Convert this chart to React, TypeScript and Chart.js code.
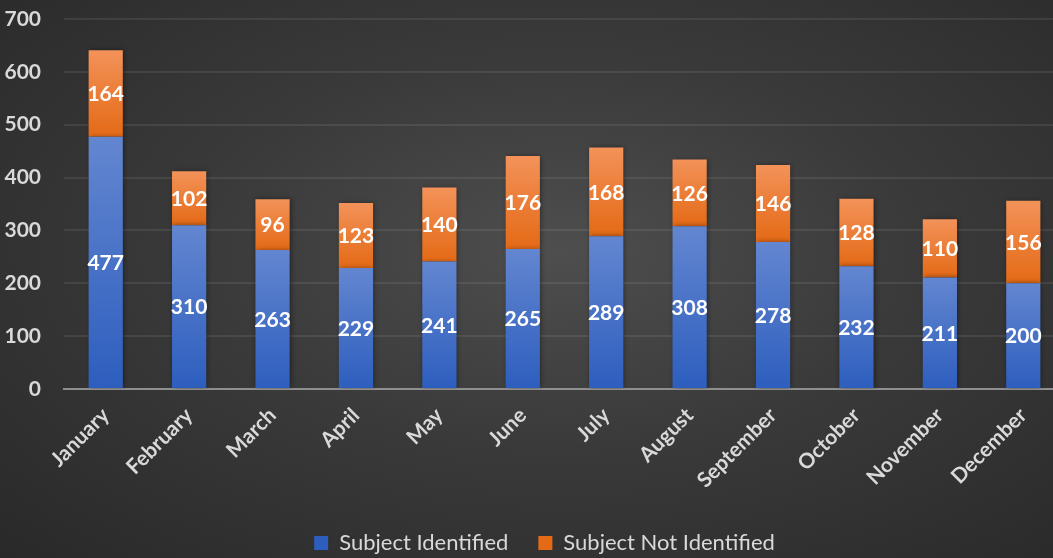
import React, { useEffect, useRef } from "react";
import { Chart, registerables } from "chart.js";

Chart.register(...registerables);

const months = ["January", "February", "March", "April", "May", "June", "July", "August", "September", "October", "November", "December"];
const identified = [477, 310, 263, 229, 241, 265, 289, 308, 278, 232, 211, 200];
const notIdentified = [164, 102, 96, 123, 140, 176, 168, 126, 146, 128, 110, 156];
const yTicks = [0, 100, 200, 300, 400, 500, 600, 700];
const seriesNames = ["Subject Identified", "Subject Not Identified"];

const FONT = "Lato, 'Noto Sans', sans-serif";
const TEXT = "#d9d9d9";

function gradientFill(ctx: any, seriesIndex: number) {
  const solid = seriesIndex === 0 ? "#4472C4" : "#ED7D31";
  if (ctx.type !== "data") return solid;
  const chart = ctx.chart;
  const y = chart.scales && chart.scales.y;
  if (!y || !chart.chartArea) return solid;
  const i = ctx.dataIndex;
  const base = seriesIndex === 0 ? 0 : identified[i];
  const top = base + (seriesIndex === 0 ? identified[i] : notIdentified[i]);
  const y0 = y.getPixelForValue(top);
  const y1 = y.getPixelForValue(base);
  if (!isFinite(y0) || !isFinite(y1) || y0 === y1) return solid;
  const g = chart.ctx.createLinearGradient(0, y0, 0, y1);
  if (seriesIndex === 0) {
    g.addColorStop(0, "#6386d0");
    g.addColorStop(1, "#2d5ebe");
  } else {
    g.addColorStop(0, "#f39259");
    g.addColorStop(1, "#e46a16");
  }
  return g;
}

const barDecor = {
  id: "barDecor",
  beforeDatasetsDraw(chart: any) {
    const c = chart.ctx;
    c.save();
    c.shadowColor = "rgba(0,0,0,0.45)";
    c.shadowBlur = 5;
    c.shadowOffsetX = 1;
    c.shadowOffsetY = 0;
  },
  afterDatasetsDraw(chart: any) {
    const c = chart.ctx;
    c.restore();
    c.save();
    c.fillStyle = "#ffffff";
    c.font = `bold 21px ${FONT}`;
    c.textAlign = "center";
    c.textBaseline = "middle";
    chart.data.datasets.forEach((ds: any, di: number) => {
      const meta = chart.getDatasetMeta(di);
      meta.data.forEach((bar: any, i: number) => {
        const v = ds.data[i];
        c.fillText(String(v), bar.x, (bar.y + bar.base) / 2 + 1);
      });
    });
    c.restore();
  },
};

const legendShift = {
  id: "legendShift",
  afterLayout(chart: any) {
    const l = chart.legend;
    if (!l) return;
    l.left += 12;
    l.right += 12;
    const h = l.bottom - l.top;
    l.top = 502;
    l.bottom = 502 + h;
  },
};

export default function App() {
  const ref = useRef<HTMLCanvasElement | null>(null);
  useEffect(() => {
    if (!ref.current) return;
    const chart = new Chart(ref.current, {
      type: "bar",
      data: {
        labels: months,
        datasets: [
          {
            label: seriesNames[0],
            data: identified,
            backgroundColor: (ctx: any) => gradientFill(ctx, 0),
            borderWidth: 0,
            barPercentage: 0.41,
            categoryPercentage: 1,
          },
          {
            label: seriesNames[1],
            data: notIdentified,
            backgroundColor: (ctx: any) => gradientFill(ctx, 1),
            borderWidth: 0,
            barPercentage: 0.41,
            categoryPercentage: 1,
          },
        ],
      },
      options: {
        animation: false,
        responsive: false,
        devicePixelRatio: 1,
        layout: { padding: { top: 19, left: 0, right: 0, bottom: 0 } },
        plugins: {
          legend: {
            position: "bottom",
            labels: {
              color: TEXT,
              font: { family: FONT, size: 22 },
              boxWidth: 14,
              boxHeight: 14,
              padding: 30,
            },
          },
          tooltip: { enabled: false },
        },
        scales: {
          x: {
            stacked: true,
            z: 1,
            grid: { display: false, drawTicks: false },
            border: { display: true, color: "#8f8f8f", width: 2 },
            ticks: {
              color: TEXT,
              font: { family: FONT, size: 21, weight: "bold" },
              maxRotation: 45,
              minRotation: 45,
              autoSkip: false,
              padding: 14,
            },
            afterFit: (s: any) => {
              s.height = 107;
            },
          },
          y: {
            stacked: true,
            min: 0,
            max: 700,
            afterBuildTicks: (s: any) => {
              s.ticks = yTicks.map((v) => ({ value: v }));
            },
            grid: {
              color: "rgba(255,255,255,0.08)",
              lineWidth: 2,
              drawTicks: true,
              tickLength: 23,
              tickColor: "rgba(0,0,0,0)",
            },
            border: { display: false },
            ticks: {
              color: TEXT,
              font: { family: FONT, size: 21, weight: "bold" },
              padding: 0,
            },
            afterFit: (s: any) => {
              s.width = 64;
            },
          },
        },
      },
      plugins: [barDecor, legendShift],
    });
    return () => chart.destroy();
  }, []);

  return (
    <div
      style={{
        position: "absolute",
        left: 0,
        top: 0,
        width: 1053,
        height: 558,
        overflow: "hidden",
        background:
          "radial-gradient(ellipse farthest-corner at 53% 45%, #4e4e4e 0%, #3a3a3a 45%, #292929 100%)",
      }}
    >
      <canvas ref={ref} width={1065} height={558} style={{ display: "block" }} />
    </div>
  );
}
